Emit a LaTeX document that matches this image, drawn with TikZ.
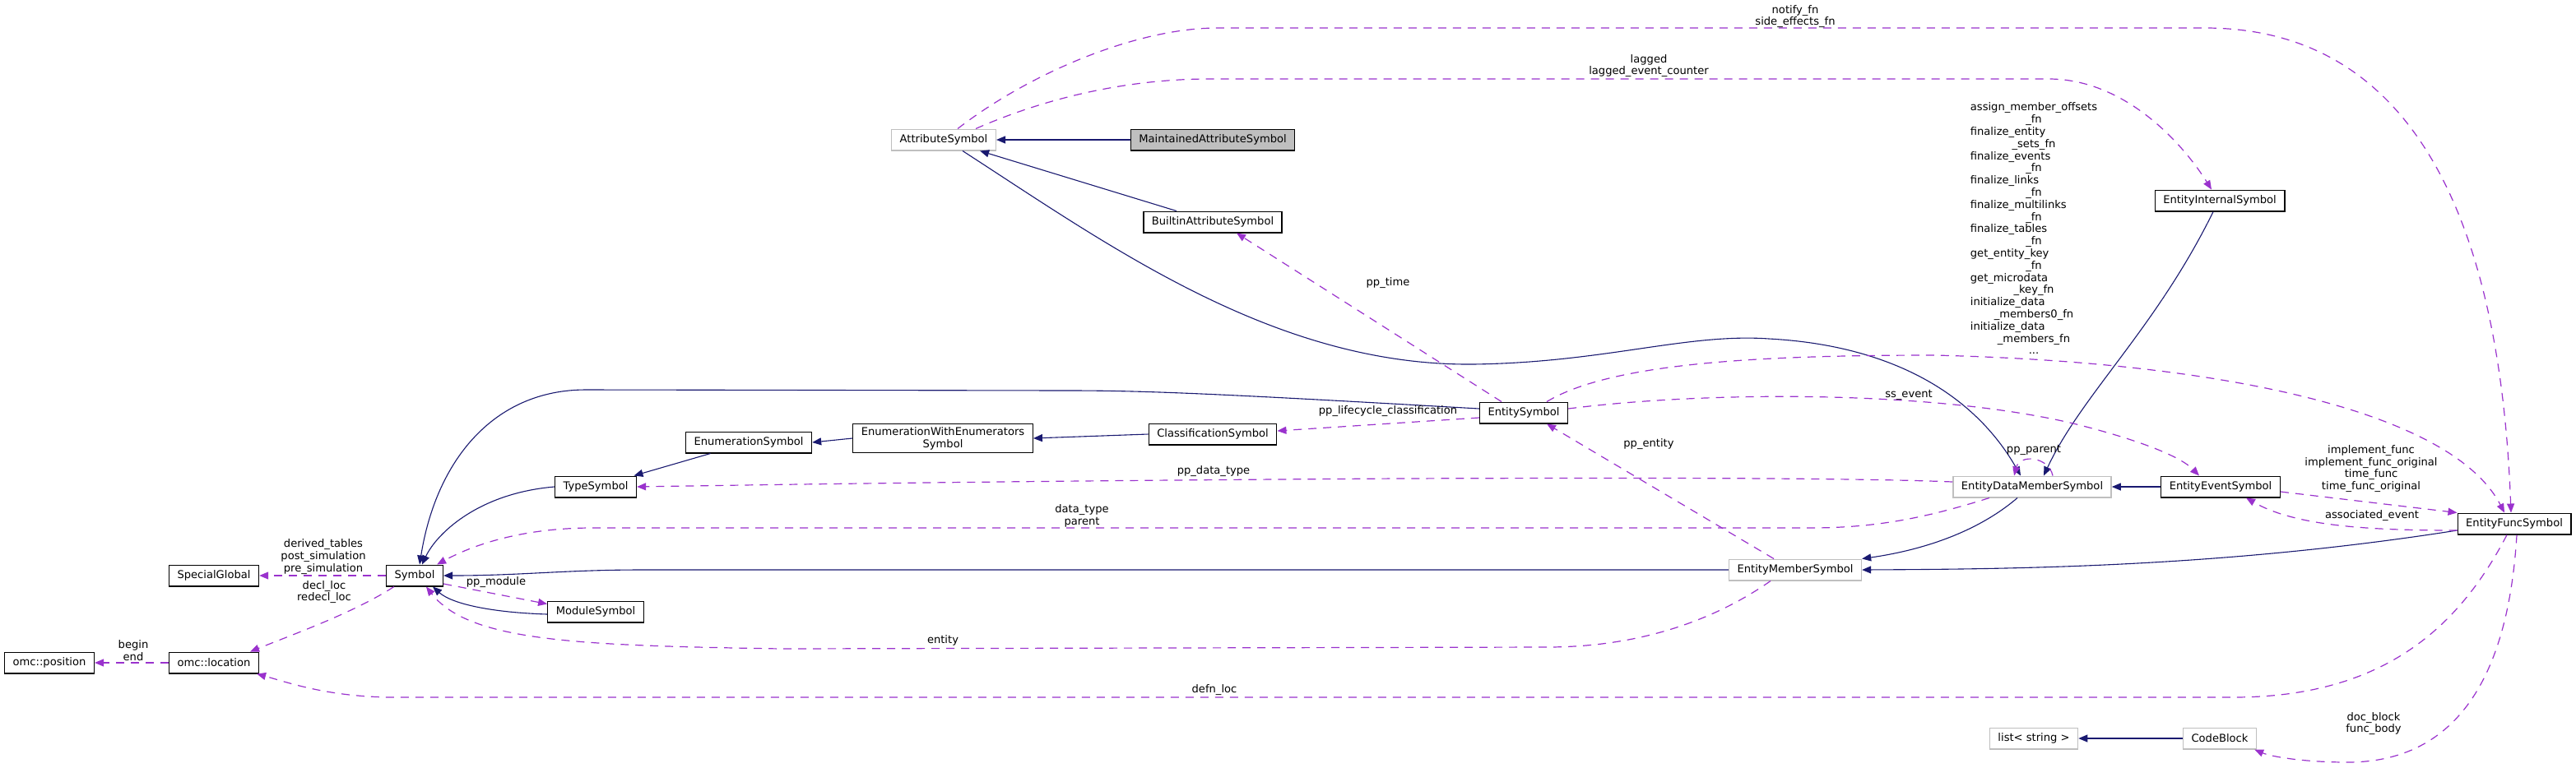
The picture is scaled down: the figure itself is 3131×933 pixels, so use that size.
\documentclass[tikz,border=0pt]{standalone}
\usepackage{fontspec}
\setmainfont{DejaVu Sans}
\usetikzlibrary{arrows.meta, calc}
\definecolor{inhc}{RGB}{25,25,112}
\definecolor{usec}{RGB}{154,50,205}
\definecolor{greyc}{RGB}{191,191,191}
\newcommand{\lbl}{\fontsize{6.55}{7.4}\selectfont}
\tikzset{
  cls/.style={draw=#1, fill=white, line width=0.7pt, inner xsep=5pt,
              inner ysep=2pt, minimum height=12.8pt, align=center, font=\lbl},
  cls/.default=black,
  inh/.style={draw=inhc, line width=0.55pt, -{Triangle[length=5.5pt,width=4.5pt]}},
  uses/.style={draw=usec, line width=0.6pt, dash pattern=on 5pt off 4pt,
               -{Triangle[length=5.5pt,width=4.5pt]}},
  lab/.style={font=\lbl, align=center, inner sep=0pt},
}

\begin{document}
\begin{tikzpicture}[x=0.5pt, y=-0.5pt]
  \useasboundingbox (0,0) rectangle (3131,933);

  % classes
  \node[cls] (pos) at (60,806) {omc::position};
  \node[cls] (loc) at (260,806) {omc::location};
  \node[cls] (glob) at (260,700) {SpecialGlobal};
  \node[cls] (sym) at (504,700) {Symbol};
  \node[cls] (mod) at (724,744) {ModuleSymbol};
  \node[cls] (type) at (724,592) {TypeSymbol};
  \node[cls] (enum) at (910,538) {EnumerationSymbol};
  \node[cls] (enumw) at (1146,533) {EnumerationWithEnumerators\\Symbol};
  \node[cls] (clsf) at (1474,528) {ClassificationSymbol};
  \node[cls] (ent) at (1852,502) {EntitySymbol};
  \node[cls=greyc] (attr) at (1147,170) {AttributeSymbol};
  \node[cls, fill=greyc] (main) at (1474,170) {MaintainedAttributeSymbol};
  \node[cls] (built) at (1474,270) {BuiltinAttributeSymbol};
  \node[cls] (eint) at (2698,244) {EntityInternalSymbol};
  \node[cls=greyc] (edm) at (2470,592) {EntityDataMemberSymbol};
  \node[cls] (eevent) at (2699,592) {EntityEventSymbol};
  \node[cls] (efunc) at (3056,637) {EntityFuncSymbol};
  \node[cls=greyc] (emem) at (2182,693) {EntityMemberSymbol};
  \node[cls=greyc] (list) at (2472,898) {list< string >};
  \node[cls=greyc] (code) at (2698,898) {CodeBlock};

  % inheritance
  \draw[inh] (main) -- (attr);
  \draw[inh] (built) -- (attr);
  \draw[inh] ($(attr.south)+(23,0)$) .. controls (1350,300) and (1550,445) .. (1790,443)
    .. controls (1950,441) and (2050,405) .. (2150,412)
    .. controls (2300,420) and (2400,480) .. ($(edm.north)+(-14,0)$);
  \draw[inh] ($(eint.south)+(-8,0)$) .. controls (2620,400) and (2530,480) .. ($(edm.north)+(14,0)$);
  \draw[inh] (eevent) -- (edm);
  \draw[inh] ($(edm.south)+(-18,0)$) .. controls (2400,650) and (2330,670) .. (emem.north east);
  \draw[inh] ($(efunc.west)+(0,8)$) .. controls (2700,690) and (2450,692) .. (emem.east);
  \draw[inh] (emem.west) -- (780,693) to[out=180, in=0] (sym.east);
  \draw[inh] ($(ent.west)+(0,-5)$) .. controls (1500,480) and (1400,475) .. (1300,475)
    -- (712,474) .. controls (600,474) and (530,560) .. ($(sym.north)+(6,0)$);
  \draw[inh] (type.west) .. controls (580,600) and (530,650) .. ($(sym.north)+(9,0)$);
  \draw[inh] (enum) -- (type);
  \draw[inh] (enumw.west) -- (enum.east);
  \draw[inh] (clsf.west) -- (enumw.east);
  \draw[inh] ($(mod.west)+(0,3)$) .. controls (600,745) and (550,735) .. ($(sym.south)+(22,0)$);
  \draw[inh] (code) -- (list);

  % usage
  \draw[uses] ($(attr.north)+(17,0)$) .. controls (1250,90) and (1380,34) .. (1480,34)
    -- (2680,34) .. controls (2950,34) and (3040,300) .. ($(efunc.north)+(-4,0)$);
  \node[lab] (lnotify) at (2182,20) {notify\_fn\\side\_effects\_fn};
  \draw[uses] ($(attr.north)+(39,0)$) .. controls (1280,115) and (1380,96) .. (1470,96)
    -- (2490,96) .. controls (2580,96) and (2650,170) .. ($(eint.north)+(-10,0)$);
  \node[lab] (llagged) at (2004,80) {lagged\\lagged\_event\_counter};
  \draw[uses] ($(ent.north)+(-27,0)$) -- ($(built.south)+(29,0)$);
  \node[lab] (ltime) at (1687,344) {pp\_time};
  \draw[uses] ($(ent.west)+(0,6)$) -- ($(clsf.east)+(0,-4)$);
  \node[lab] (llife) at (1687,500) {pp\_lifecycle\_classification};
  \draw[uses] ($(ent.east)+(0,-5)$) .. controls (2080,475) and (2350,475) .. (2520,515)
    .. controls (2600,535) and (2650,555) .. ($(eevent.north)+(-26,0)$);
  \node[lab] (lss) at (2320,480) {ss\_event};
  \draw[uses] ($(ent.north)+(28,0)$) .. controls (1960,440) and (2150,432) .. (2350,432)
    .. controls (2700,440) and (2980,500) .. ($(efunc.north)+(-12,0)$);
  \node[lab] (lfuncs) at (2472,280) {\begin{tabular}{@{}l@{}}
    assign\_member\_offsets\\ \multicolumn{1}{@{}c@{}}{\_fn}\\
    finalize\_entity\\ \multicolumn{1}{@{}c@{}}{\_sets\_fn}\\
    finalize\_events\\ \multicolumn{1}{@{}c@{}}{\_fn}\\
    finalize\_links\\ \multicolumn{1}{@{}c@{}}{\_fn}\\
    finalize\_multilinks\\ \multicolumn{1}{@{}c@{}}{\_fn}\\
    finalize\_tables\\ \multicolumn{1}{@{}c@{}}{\_fn}\\
    get\_entity\_key\\ \multicolumn{1}{@{}c@{}}{\_fn}\\
    get\_microdata\\ \multicolumn{1}{@{}c@{}}{\_key\_fn}\\
    initialize\_data\\ \multicolumn{1}{@{}c@{}}{\_members0\_fn}\\
    initialize\_data\\ \multicolumn{1}{@{}c@{}}{\_members\_fn}\\
    \multicolumn{1}{@{}c@{}}{...}
  \end{tabular}};
  \draw[uses] ($(eevent.east)+(0,6)$) -- (efunc.north west);
  \node[lab] (limpl) at (2882,570) {implement\_func\\implement\_func\_original\\time\_func\\time\_func\_original};
  \draw[uses] ($(efunc.west)+(0,8)$) .. controls (2880,645) and (2790,640) .. ($(eevent.south)+(31,0)$);
  \node[lab] (lassoc) at (2883,627) {associated\_event};
  \draw[uses] ($(edm.west)+(0,-6)$) .. controls (2250,581) and (2000,581) .. (1700,582)
    .. controls (1200,585) and (900,590) .. (type.east);
  \node[lab] (ldtype) at (1475,573) {pp\_data\_type};
  \draw[uses] ($(edm.south)+(-52,0)$) .. controls (2340,630) and (2280,642) .. (2200,642)
    -- (720,642) .. controls (640,642) and (580,660) .. ($(sym.north east)+(-8,0)$);
  \node[lab] (ldata) at (1315,627) {data\_type\\parent};
  \draw[uses] ($(edm.north)+(25,0)$) .. controls (2490,555) and (2455,552) .. ($(edm.north)+(-22,0)$);
  \node[lab] (lparent) at (2472,547) {pp\_parent};
  \draw[uses] ($(emem.north)+(-26,0)$) -- ($(ent.south)+(28,0)$);
  \node[lab] (lppent) at (2004,540) {pp\_entity};
  \draw[uses] ($(emem.south)+(-30,0)$) .. controls (2090,750) and (2000,787) .. (1880,787)
    -- (950,789) .. controls (700,785) and (570,780) .. ($(sym.south)+(14,0)$);
  \node[lab] (lentity) at (1146,779) {entity};
  \draw[uses] ($(efunc.south)+(-9,0)$) .. controls (2990,760) and (2900,848) .. (2714,848)
    -- (480,848) .. controls (400,848) and (350,830) .. ($(loc.south east)+(-3,0)$);
  \node[lab] (ldefn) at (1476,839) {defn\_loc};
  \draw[uses] (sym.west) -- (glob.east);
  \node[lab] (lglob) at (393,677) {derived\_tables\\post\_simulation\\pre\_simulation};
  \draw[uses] ($(sym.south west)+(10,0)$) .. controls (430,745) and (360,770) .. ($(loc.north east)+(-11,0)$);
  \node[lab] (ldecl) at (394,720) {decl\_loc\\redecl\_loc};
  \draw[uses] (loc.west) -- (pos.east);
  \node[lab] (lbegin) at (162,791) {begin\\end};
  \draw[uses] ($(sym.east)+(0,10)$) -- ($(mod.north west)+(0,4)$);
  \node[lab] (lmod) at (603,708) {pp\_module};
  \draw[uses] ($(efunc.south)+(3,0)$) .. controls (3050,800) and (3000,927) .. (2853,927)
    .. controls (2800,927) and (2760,920) .. ($(code.south east)+(-3,0)$);
  \node[lab] (ldoc) at (2885,880) {doc\_block\\func\_body};
\end{tikzpicture}
\end{document}
